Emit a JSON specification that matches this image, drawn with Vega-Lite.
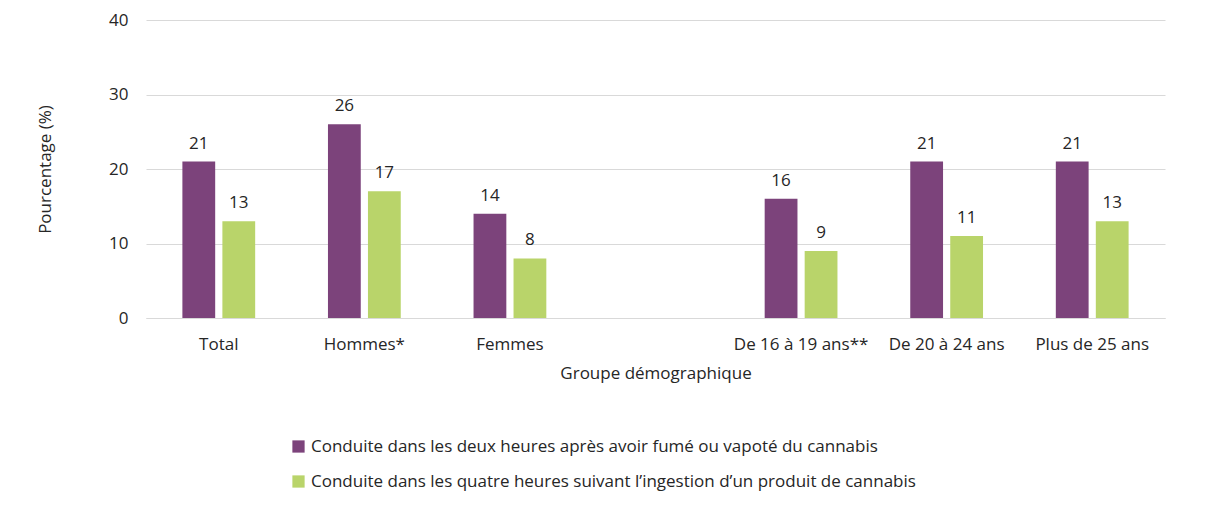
{
  "$schema": "https://vega.github.io/schema/vega-lite/v6.json",
  "autosize": {"type": "none"},
  "width": 1019,
  "height": 298,
  "padding": {"left": 146, "top": 20, "right": 47, "bottom": 189},
  "background": "white",
  "config": {
    "font": "Open Sans",
    "view": {"stroke": null},
    "axis": {"labelFont": "Open Sans", "titleFont": "Open Sans", "labelFontSize": 17, "titleFontSize": 17, "labelColor": "#262626", "titleColor": "#262626", "titleFontWeight": "normal"},
    "legend": {"labelFont": "Open Sans", "labelFontSize": 17, "labelColor": "#262626"}
  },
  "data": {
    "values": [
      {"groupe": "Total", "serie": "Conduite dans les deux heures après avoir fumé ou vapoté du cannabis", "valeur": 21},
      {"groupe": "Total", "serie": "Conduite dans les quatre heures suivant l’ingestion d’un produit de cannabis", "valeur": 13},
      {"groupe": "Hommes*", "serie": "Conduite dans les deux heures après avoir fumé ou vapoté du cannabis", "valeur": 26},
      {"groupe": "Hommes*", "serie": "Conduite dans les quatre heures suivant l’ingestion d’un produit de cannabis", "valeur": 17},
      {"groupe": "Femmes", "serie": "Conduite dans les deux heures après avoir fumé ou vapoté du cannabis", "valeur": 14},
      {"groupe": "Femmes", "serie": "Conduite dans les quatre heures suivant l’ingestion d’un produit de cannabis", "valeur": 8},
      {"groupe": "De 16 à 19 ans**", "serie": "Conduite dans les deux heures après avoir fumé ou vapoté du cannabis", "valeur": 16},
      {"groupe": "De 16 à 19 ans**", "serie": "Conduite dans les quatre heures suivant l’ingestion d’un produit de cannabis", "valeur": 9},
      {"groupe": "De 20 à 24 ans", "serie": "Conduite dans les deux heures après avoir fumé ou vapoté du cannabis", "valeur": 21},
      {"groupe": "De 20 à 24 ans", "serie": "Conduite dans les quatre heures suivant l’ingestion d’un produit de cannabis", "valeur": 11},
      {"groupe": "Plus de 25 ans", "serie": "Conduite dans les deux heures après avoir fumé ou vapoté du cannabis", "valeur": 21},
      {"groupe": "Plus de 25 ans", "serie": "Conduite dans les quatre heures suivant l’ingestion d’un produit de cannabis", "valeur": 13}
    ]
  },
  "encoding": {
    "x": {
      "field": "groupe", "type": "nominal",
      "scale": {"domain": ["Total", "Hommes*", "Femmes", " ", "De 16 à 19 ans**", "De 20 à 24 ans", "Plus de 25 ans"], "paddingInner": 0.5, "paddingOuter": 0.25},
      "axis": {"title": "Groupe démographique", "labelAngle": 0, "labelPadding": 18, "ticks": false, "domainColor": "#d9d9d9", "titlePadding": 13, "grid": false}
    },
    "xOffset": {
      "field": "serie", "type": "nominal",
      "scale": {"paddingInner": 0.18, "paddingOuter": 0}
    },
    "y": {
      "field": "valeur", "type": "quantitative",
      "scale": {"domain": [0, 40]},
      "axis": {"title": "Pourcentage (%)", "values": [0, 10, 20, 30, 40], "ticks": false, "domain": false, "gridColor": "#d9d9d9", "labelPadding": 18, "titlePadding": 54}
    }
  },
  "layer": [
    {
      "mark": {"type": "bar"},
      "encoding": {
        "color": {
          "field": "serie", "type": "nominal",
          "scale": {"range": ["#7C437B", "#B9D46A"]},
          "legend": {"title": null, "orient": "none", "legendX": 144, "legendY": 418, "symbolType": "square", "symbolSize": 150, "symbolStrokeWidth": 0, "rowPadding": 17, "labelLimit": 900, "symbolOpacity": 1}
        }
      }
    },
    {
      "mark": {"type": "text", "baseline": "bottom", "dy": -9, "fontSize": 17, "color": "#262626"},
      "encoding": {
        "text": {"field": "valeur", "type": "quantitative"}
      }
    }
  ]
}
